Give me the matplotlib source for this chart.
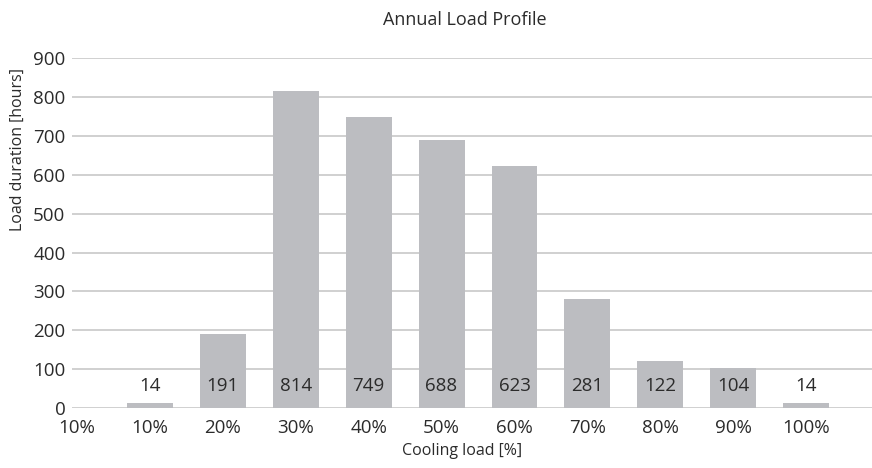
import numpy as np
import matplotlib
matplotlib.use('Agg')
import matplotlib.pyplot as plt

plt.rcParams['font.family'] = ['Open Sans', 'DejaVu Sans']

# Дані: категорії навантаження та тривалість (години)
categories = ['10%', '10%', '20%', '30%', '40%', '50%', '60%', '70%', '80%', '90%', '100%']
hours = [None, 14, 191, 814, 749, 688, 623, 281, 122, 104, 14]
y_ticks = [0, 100, 200, 300, 400, 500, 600, 700, 800, 900]

text_color = '#2b2b2b'
bar_color = '#bcbdc1'
grid_color = '#c8c8c8'

fig = plt.figure(figsize=(8.72, 4.68), dpi=100)
ax = fig.add_axes([0.083, 0.128, 0.917, 0.748])

x = np.arange(len(categories))
for xi, h in zip(x, hours):
    if h is None:
        continue
    ax.bar(xi, h, width=0.63, color=bar_color, zorder=2)
    # підпис значення біля основи стовпчика
    ax.text(xi, 58, str(h), ha='center', va='center', fontsize=13.5,
            color=text_color, zorder=3)

ax.set_xticks(x)
ax.set_xticklabels(categories, fontsize=13.5, color=text_color)
ax.set_yticks(y_ticks)
ax.set_yticklabels([str(v) for v in y_ticks], fontsize=13.5, color=text_color)
ax.set_ylim(0, 900)
ax.set_xlim(-0.06, 10.9)

ax.tick_params(axis='both', length=0)
ax.tick_params(axis='x', pad=8)
ax.tick_params(axis='y', pad=5)
ax.yaxis.grid(True, color=grid_color, linewidth=1.2, zorder=0)
ax.set_axisbelow(True)
for s in ax.spines.values():
    s.set_visible(False)

ax.set_ylabel('Load duration [hours]', fontsize=11.5, color=text_color)
ax.yaxis.set_label_coords(-0.058, 0.74)

fig.text(462 / 872, 1 - 451 / 468, 'Cooling load [%]', ha='center', va='center',
         fontsize=11.5, color=text_color)
fig.text(465 / 872, 1 - 20 / 468, 'Annual Load Profile', ha='center', va='center',
         fontsize=13, color=text_color)

fig.savefig('out.png', dpi=100)
